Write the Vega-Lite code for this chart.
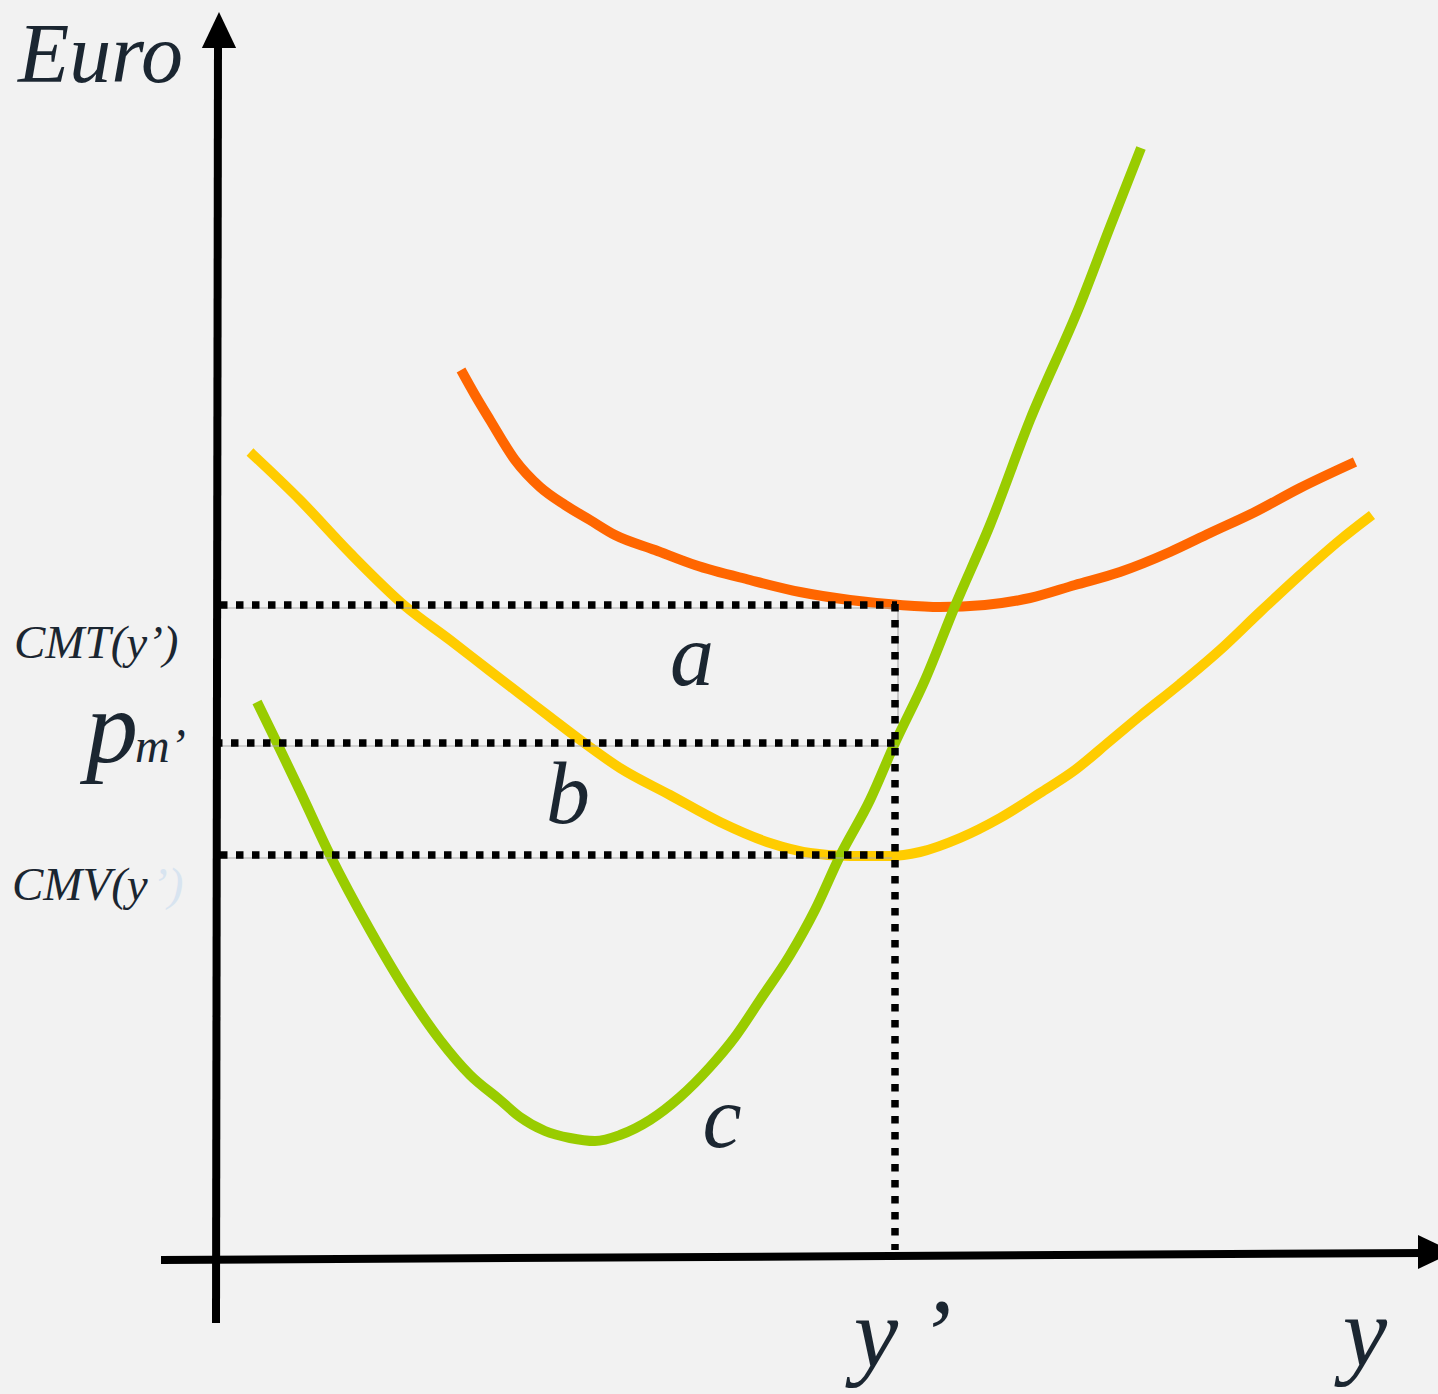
{
  "$schema": "https://vega.github.io/schema/vega-lite/v6.json",
  "width": 1438,
  "height": 1394,
  "autosize": {"type": "none"},
  "padding": 0,
  "background": "#f2f2f2",
  "config": {"view": {"stroke": null}},
  "datasets": {
    "curves": [
      {"curve": "CMT", "x": 461, "y": 1024}, {"curve": "CMT", "x": 475, "y": 999}, {"curve": "CMT", "x": 490, "y": 974},
      {"curve": "CMT", "x": 515, "y": 934}, {"curve": "CMT", "x": 540, "y": 907}, {"curve": "CMT", "x": 565, "y": 889},
      {"curve": "CMT", "x": 590, "y": 874}, {"curve": "CMT", "x": 615, "y": 859}, {"curve": "CMT", "x": 655, "y": 844},
      {"curve": "CMT", "x": 695, "y": 829}, {"curve": "CMT", "x": 750, "y": 814}, {"curve": "CMT", "x": 800, "y": 802},
      {"curve": "CMT", "x": 850, "y": 794}, {"curve": "CMT", "x": 900, "y": 789}, {"curve": "CMT", "x": 940, "y": 787},
      {"curve": "CMT", "x": 985, "y": 789}, {"curve": "CMT", "x": 1030, "y": 796}, {"curve": "CMT", "x": 1075, "y": 809},
      {"curve": "CMT", "x": 1120, "y": 822}, {"curve": "CMT", "x": 1170, "y": 842}, {"curve": "CMT", "x": 1210, "y": 861},
      {"curve": "CMT", "x": 1255, "y": 882}, {"curve": "CMT", "x": 1300, "y": 906}, {"curve": "CMT", "x": 1355, "y": 932},

      {"curve": "CMV", "x": 250, "y": 942}, {"curve": "CMV", "x": 300, "y": 894}, {"curve": "CMV", "x": 350, "y": 841},
      {"curve": "CMV", "x": 405, "y": 788}, {"curve": "CMV", "x": 450, "y": 754}, {"curve": "CMV", "x": 490, "y": 723},
      {"curve": "CMV", "x": 520, "y": 700}, {"curve": "CMV", "x": 550, "y": 677}, {"curve": "CMV", "x": 583, "y": 652},
      {"curve": "CMV", "x": 620, "y": 626}, {"curve": "CMV", "x": 670, "y": 599}, {"curve": "CMV", "x": 720, "y": 572},
      {"curve": "CMV", "x": 770, "y": 551}, {"curve": "CMV", "x": 810, "y": 541}, {"curve": "CMV", "x": 850, "y": 538},
      {"curve": "CMV", "x": 890, "y": 538}, {"curve": "CMV", "x": 920, "y": 542}, {"curve": "CMV", "x": 960, "y": 556},
      {"curve": "CMV", "x": 1000, "y": 576}, {"curve": "CMV", "x": 1040, "y": 601}, {"curve": "CMV", "x": 1075, "y": 624},
      {"curve": "CMV", "x": 1110, "y": 653}, {"curve": "CMV", "x": 1140, "y": 678}, {"curve": "CMV", "x": 1180, "y": 710},
      {"curve": "CMV", "x": 1220, "y": 744}, {"curve": "CMV", "x": 1260, "y": 782}, {"curve": "CMV", "x": 1300, "y": 819},
      {"curve": "CMV", "x": 1340, "y": 854}, {"curve": "CMV", "x": 1372, "y": 879},

      {"curve": "Cm", "x": 257, "y": 692}, {"curve": "Cm", "x": 277, "y": 651}, {"curve": "Cm", "x": 300, "y": 603},
      {"curve": "Cm", "x": 330, "y": 539}, {"curve": "Cm", "x": 370, "y": 464}, {"curve": "Cm", "x": 410, "y": 397},
      {"curve": "Cm", "x": 440, "y": 354}, {"curve": "Cm", "x": 470, "y": 319}, {"curve": "Cm", "x": 500, "y": 294},
      {"curve": "Cm", "x": 520, "y": 277}, {"curve": "Cm", "x": 545, "y": 263}, {"curve": "Cm", "x": 570, "y": 256},
      {"curve": "Cm", "x": 595, "y": 253}, {"curve": "Cm", "x": 620, "y": 259}, {"curve": "Cm", "x": 650, "y": 274},
      {"curve": "Cm", "x": 680, "y": 297}, {"curve": "Cm", "x": 710, "y": 327}, {"curve": "Cm", "x": 735, "y": 357},
      {"curve": "Cm", "x": 760, "y": 394}, {"curve": "Cm", "x": 790, "y": 439}, {"curve": "Cm", "x": 815, "y": 484},
      {"curve": "Cm", "x": 840, "y": 538}, {"curve": "Cm", "x": 870, "y": 594}, {"curve": "Cm", "x": 895, "y": 651},
      {"curve": "Cm", "x": 925, "y": 714}, {"curve": "Cm", "x": 955, "y": 788}, {"curve": "Cm", "x": 990, "y": 869},
      {"curve": "Cm", "x": 1030, "y": 974}, {"curve": "Cm", "x": 1080, "y": 1089}, {"curve": "Cm", "x": 1110, "y": 1167},
      {"curve": "Cm", "x": 1141, "y": 1246}
    ],
    "guides": [
      {"name": "CMT", "x": 220, "y": 789, "x2": 897, "y2": 789},
      {"name": "pm", "x": 215, "y": 651, "x2": 897, "y2": 651},
      {"name": "CMV", "x": 220, "y": 539, "x2": 892, "y2": 539},
      {"name": "yprime", "x": 895, "y": 790, "x2": 895, "y2": 144}
    ],
    "shadows": [
      {"name": "CMT", "x": 220, "y": 786, "x2": 897, "y2": 786},
      {"name": "pm", "x": 215, "y": 648, "x2": 897, "y2": 648},
      {"name": "CMV", "x": 220, "y": 536, "x2": 892, "y2": 536},
      {"name": "yprime", "x": 898, "y": 790, "x2": 898, "y2": 671}
    ],
    "axes": [
      {"axis": "Euro", "x": 216, "y": 71, "x2": 218, "y2": 1354},
      {"axis": "y", "x": 161, "y": 134, "x2": 1425, "y2": 141}
    ],
    "arrowUp": [{"x": 219, "y": 1364}],
    "arrowRight": [{"x": 1436, "y": 142}],
    "euroLabel": [
      {"label": "Euro", "x": 18, "y": 1312}
    ],
    "areaLabels": [
      {"label": "a", "x": 692, "y": 709},
      {"label": "b", "x": 568, "y": 571},
      {"label": "c", "x": 722, "y": 247}
    ],
    "qLabels": [
      {"label": "y", "x": 1365, "y": 28},
      {"label": "y", "x": 876, "y": 27},
      {"label": "’", "x": 935, "y": 27}
    ],
    "costLabels": [
      {"label": "CMT(y’)", "x": 14, "y": 736},
      {"label": "CMV(y", "x": 12, "y": 494}
    ],
    "fadedLabels": [
      {"label": "’)", "x": 152, "y": 494}
    ],
    "pLabel": [{"label": "p", "x": 86, "y": 632}],
    "mLabel": [{"label": "m’", "x": 135, "y": 632}]
  },
  "layer": [
    {
      "data": {"name": "curves"},
      "mark": {"type": "line", "strokeWidth": 10, "interpolate": "monotone", "strokeCap": "butt"},
      "encoding": {
        "x": {"field": "x", "type": "quantitative", "scale": {"domain": [0, 1438], "nice": false, "zero": false}, "axis": null},
        "y": {"field": "y", "type": "quantitative", "scale": {"domain": [0, 1394], "nice": false, "zero": false}, "axis": null},
        "color": {"field": "curve", "type": "nominal", "scale": {"domain": ["CMT", "CMV", "Cm"], "range": ["#ff6600", "#ffcc00", "#99cc00"]}, "legend": null}
      }
    },
    {
      "data": {"name": "shadows"},
      "mark": {"type": "rule", "strokeWidth": 1.2, "color": "#aaaaaa"},
      "encoding": {
        "x": {"field": "x", "type": "quantitative", "scale": {"domain": [0, 1438], "nice": false, "zero": false}, "axis": null},
        "y": {"field": "y", "type": "quantitative", "scale": {"domain": [0, 1394], "nice": false, "zero": false}, "axis": null},
        "x2": {"field": "x2"},
        "y2": {"field": "y2"}
      }
    },
    {
      "data": {"name": "guides"},
      "mark": {"type": "rule", "strokeWidth": 7.5, "color": "#000000", "strokeDash": [7.5, 8.5], "strokeCap": "butt"},
      "encoding": {
        "x": {"field": "x", "type": "quantitative", "scale": {"domain": [0, 1438], "nice": false, "zero": false}, "axis": null},
        "y": {"field": "y", "type": "quantitative", "scale": {"domain": [0, 1394], "nice": false, "zero": false}, "axis": null},
        "x2": {"field": "x2"},
        "y2": {"field": "y2"}
      }
    },
    {
      "data": {"name": "axes"},
      "mark": {"type": "rule", "strokeWidth": 8, "color": "#000000", "strokeCap": "butt"},
      "encoding": {
        "x": {"field": "x", "type": "quantitative", "scale": {"domain": [0, 1438], "nice": false, "zero": false}, "axis": null},
        "y": {"field": "y", "type": "quantitative", "scale": {"domain": [0, 1394], "nice": false, "zero": false}, "axis": null},
        "x2": {"field": "x2"},
        "y2": {"field": "y2"}
      }
    },
    {
      "data": {"name": "arrowUp"},
      "mark": {"type": "point", "shape": "M0,-1L-0.95,1L0.95,1Z", "size": 1296, "filled": true, "color": "#000000", "opacity": 1, "strokeWidth": 0},
      "encoding": {
        "x": {"field": "x", "type": "quantitative", "scale": {"domain": [0, 1438], "nice": false, "zero": false}, "axis": null},
        "y": {"field": "y", "type": "quantitative", "scale": {"domain": [0, 1394], "nice": false, "zero": false}, "axis": null}
      }
    },
    {
      "data": {"name": "arrowRight"},
      "mark": {"type": "point", "shape": "M1,0L-1,-0.95L-1,0.95Z", "size": 1296, "filled": true, "color": "#000000", "opacity": 1, "strokeWidth": 0},
      "encoding": {
        "x": {"field": "x", "type": "quantitative", "scale": {"domain": [0, 1438], "nice": false, "zero": false}, "axis": null},
        "y": {"field": "y", "type": "quantitative", "scale": {"domain": [0, 1394], "nice": false, "zero": false}, "axis": null}
      }
    },
    {
      "data": {"name": "euroLabel"},
      "mark": {"type": "text", "font": "Liberation Serif, Times New Roman, serif", "fontStyle": "italic", "fontSize": 84, "color": "#1b2631", "align": "left", "baseline": "alphabetic"},
      "encoding": {
        "x": {"field": "x", "type": "quantitative", "scale": {"domain": [0, 1438], "nice": false, "zero": false}, "axis": null},
        "y": {"field": "y", "type": "quantitative", "scale": {"domain": [0, 1394], "nice": false, "zero": false}, "axis": null},
        "text": {"field": "label"}
      }
    },
    {
      "data": {"name": "areaLabels"},
      "mark": {"type": "text", "font": "Liberation Serif, Times New Roman, serif", "fontStyle": "italic", "fontSize": 88, "color": "#1b2631", "align": "center", "baseline": "alphabetic"},
      "encoding": {
        "x": {"field": "x", "type": "quantitative", "scale": {"domain": [0, 1438], "nice": false, "zero": false}, "axis": null},
        "y": {"field": "y", "type": "quantitative", "scale": {"domain": [0, 1394], "nice": false, "zero": false}, "axis": null},
        "text": {"field": "label"}
      }
    },
    {
      "data": {"name": "qLabels"},
      "mark": {"type": "text", "font": "Liberation Serif, Times New Roman, serif", "fontStyle": "italic", "fontSize": 100, "color": "#1b2631", "align": "center", "baseline": "alphabetic"},
      "encoding": {
        "x": {"field": "x", "type": "quantitative", "scale": {"domain": [0, 1438], "nice": false, "zero": false}, "axis": null},
        "y": {"field": "y", "type": "quantitative", "scale": {"domain": [0, 1394], "nice": false, "zero": false}, "axis": null},
        "text": {"field": "label"}
      }
    },
    {
      "data": {"name": "costLabels"},
      "mark": {"type": "text", "font": "Liberation Serif, Times New Roman, serif", "fontStyle": "italic", "fontSize": 47, "color": "#1b2631", "align": "left", "baseline": "alphabetic"},
      "encoding": {
        "x": {"field": "x", "type": "quantitative", "scale": {"domain": [0, 1438], "nice": false, "zero": false}, "axis": null},
        "y": {"field": "y", "type": "quantitative", "scale": {"domain": [0, 1394], "nice": false, "zero": false}, "axis": null},
        "text": {"field": "label"}
      }
    },
    {
      "data": {"name": "fadedLabels"},
      "mark": {"type": "text", "font": "Liberation Serif, Times New Roman, serif", "fontStyle": "italic", "fontSize": 47, "color": "#d8e4f0", "align": "left", "baseline": "alphabetic"},
      "encoding": {
        "x": {"field": "x", "type": "quantitative", "scale": {"domain": [0, 1438], "nice": false, "zero": false}, "axis": null},
        "y": {"field": "y", "type": "quantitative", "scale": {"domain": [0, 1394], "nice": false, "zero": false}, "axis": null},
        "text": {"field": "label"}
      }
    },
    {
      "data": {"name": "pLabel"},
      "mark": {"type": "text", "font": "Liberation Serif, Times New Roman, serif", "fontStyle": "italic", "fontSize": 104, "color": "#1b2631", "align": "left", "baseline": "alphabetic"},
      "encoding": {
        "x": {"field": "x", "type": "quantitative", "scale": {"domain": [0, 1438], "nice": false, "zero": false}, "axis": null},
        "y": {"field": "y", "type": "quantitative", "scale": {"domain": [0, 1394], "nice": false, "zero": false}, "axis": null},
        "text": {"field": "label"}
      }
    },
    {
      "data": {"name": "mLabel"},
      "mark": {"type": "text", "font": "Liberation Serif, Times New Roman, serif", "fontStyle": "italic", "fontSize": 48, "color": "#1b2631", "align": "left", "baseline": "alphabetic"},
      "encoding": {
        "x": {"field": "x", "type": "quantitative", "scale": {"domain": [0, 1438], "nice": false, "zero": false}, "axis": null},
        "y": {"field": "y", "type": "quantitative", "scale": {"domain": [0, 1394], "nice": false, "zero": false}, "axis": null},
        "text": {"field": "label"}
      }
    }
  ]
}
